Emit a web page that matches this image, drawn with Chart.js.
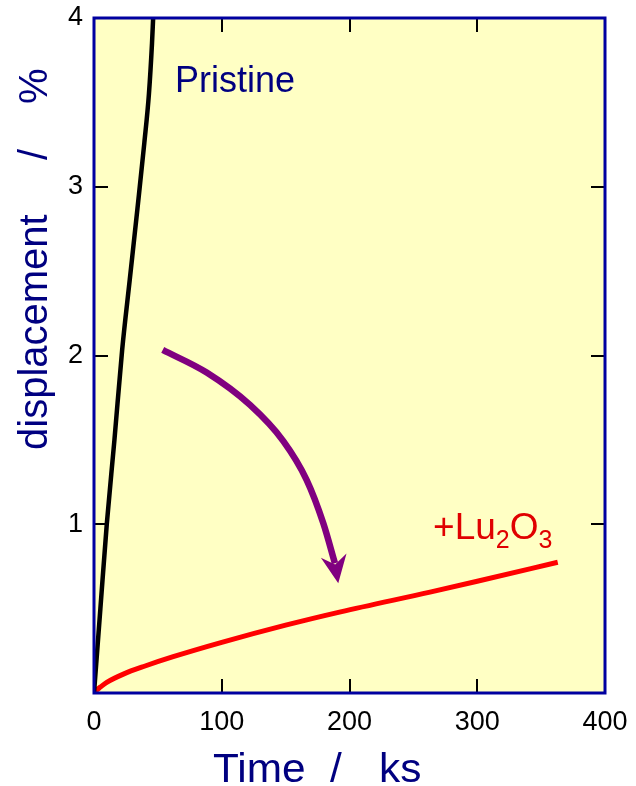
<!DOCTYPE html>
<html>
<head>
<meta charset="utf-8">
<script src="https://cdn.jsdelivr.net/npm/chart.js@4.4.1/dist/chart.umd.min.js"></script>
<style>
  html, body { margin: 0; padding: 0; background: #fff; }
  #wrap { width: 636px; height: 786px; }
</style>
</head>
<body>
<div id="wrap"><canvas id="creep"></canvas></div>
<script>
// creep curves: time (ks) vs displacement (%)
const pristineTime = [0, 5, 10, 16, 22, 28, 34, 39.4, 43, 45.4, 46.3];
const pristineDisp = [0, 0.5, 1.0, 1.5, 2.03, 2.45, 2.87, 3.26, 3.55, 3.85, 4.0];

const luTime = [0, 2, 5, 10, 23, 40, 62, 100, 150, 193, 263, 300, 363];
const luDisp = [0, 0.017, 0.035, 0.063, 0.112, 0.16, 0.215, 0.3, 0.402, 0.481, 0.598, 0.662, 0.775];

// curved arrow (shaft points, last one is the tip)
const arrowX = [53.8, 88.2, 122.1, 148.2, 166.5, 179.5, 188.6, 191.2];
const arrowY = [2.033, 1.899, 1.707, 1.493, 1.262, 1.006, 0.769, 0.65];

const xTicks = [0, 100, 200, 300, 400];
const yTicks = [0, 1, 2, 3, 4];

const NAVY = '#000080';
const FRAME = '#0000a0';
const PURPLE = '#800080';
const FONT = '"Liberation Sans", Arial, sans-serif';

const toXY = (xs, ys) => xs.map((x, i) => ({ x, y: ys[i] }));

// text stretched along its own direction
function wideText(ctx, text, x, y, stretch) {
  ctx.save();
  ctx.translate(x, y);
  ctx.scale(stretch, 1);
  ctx.fillText(text, 0, 0);
  ctx.restore();
}

const frame = {
  id: 'frame',
  beforeDraw(chart) {
    const { ctx, chartArea: a } = chart;
    ctx.save();
    ctx.fillStyle = '#ffffc4';
    ctx.fillRect(a.left, a.top, a.right - a.left, a.bottom - a.top);
    ctx.restore();
  },
  afterDatasetsDraw(chart) {
    const { ctx, chartArea: a, scales } = chart;
    const sx = scales.x, sy = scales.y;
    ctx.save();

    // arrow head
    const n = arrowX.length;
    const tx = sx.getPixelForValue(arrowX[n - 1]), ty = sy.getPixelForValue(arrowY[n - 1]);
    const px = sx.getPixelForValue(arrowX[n - 2]), py = sy.getPixelForValue(arrowY[n - 2]);
    const ang = Math.atan2(ty - py, tx - px);
    ctx.translate(tx, ty);
    ctx.rotate(ang);
    ctx.fillStyle = PURPLE;
    ctx.beginPath();
    ctx.moveTo(0, 0);
    ctx.lineTo(-28, -13);
    ctx.lineTo(-19, 0);
    ctx.lineTo(-28, 13);
    ctx.closePath();
    ctx.fill();
    ctx.setTransform(1, 0, 0, 1, 0, 0);

    // inward ticks on all four sides
    ctx.strokeStyle = '#000';
    ctx.lineWidth = 2;
    ctx.beginPath();
    xTicks.slice(1, -1).forEach((v) => {
      const x = Math.round(sx.getPixelForValue(v));
      ctx.moveTo(x, a.bottom); ctx.lineTo(x, a.bottom - 14);
      ctx.moveTo(x, a.top); ctx.lineTo(x, a.top + 14);
    });
    yTicks.slice(1, -1).forEach((v) => {
      const y = Math.round(sy.getPixelForValue(v));
      ctx.moveTo(a.left, y); ctx.lineTo(a.left + 14, y);
      ctx.moveTo(a.right, y); ctx.lineTo(a.right - 14, y);
    });
    ctx.stroke();

    // plot frame
    ctx.strokeStyle = FRAME;
    ctx.lineWidth = 3;
    ctx.strokeRect(a.left, a.top, a.right - a.left, a.bottom - a.top);

    // curve labels
    ctx.textBaseline = 'alphabetic';
    ctx.textAlign = 'left';
    ctx.font = '36px ' + FONT;
    ctx.fillStyle = NAVY;
    ctx.fillText('Pristine', sx.getPixelForValue(63.4), sy.getPixelForValue(3.56));

    let lx = sx.getPixelForValue(265.4);
    const ly = sy.getPixelForValue(0.913);
    ctx.fillStyle = '#e00000';
    const parts = [['+Lu', 37, 0], ['2', 25, 9], ['O', 37, 0], ['3', 25, 9]];
    parts.forEach(([t, size, dy]) => {
      ctx.font = size + 'px ' + FONT;
      ctx.fillText(t, lx, ly + dy);
      lx += ctx.measureText(t).width;
    });

    // axis titles
    ctx.fillStyle = NAVY;
    ctx.font = '40px ' + FONT;
    wideText(ctx, 'Time', 213, 782, 1.06);
    wideText(ctx, '/', 330, 782, 1.06);
    wideText(ctx, 'ks', 379, 782, 1.06);
    ctx.translate(47, 0);
    ctx.rotate(-Math.PI / 2);
    ctx.fillText('displacement', -450, 0);
    ctx.fillText('/', -160, 0);
    ctx.fillText('%', -104, 0);
    ctx.restore();
  },
};

new Chart(document.getElementById('creep'), {
  type: 'line',
  data: {
    datasets: [
      {
        label: 'Pristine',
        data: toXY(pristineTime, pristineDisp),
        borderColor: '#000',
        borderWidth: 4.5,
        pointRadius: 0,
        cubicInterpolationMode: 'monotone',
      },
      {
        label: '+Lu2O3',
        data: toXY(luTime, luDisp),
        borderColor: '#ff0000',
        borderWidth: 5,
        pointRadius: 0,
        cubicInterpolationMode: 'monotone',
      },
      {
        label: 'arrow',
        data: toXY(arrowX.slice(0, -1), arrowY.slice(0, -1)),
        borderColor: PURPLE,
        borderWidth: 6.5,
        pointRadius: 0,
        cubicInterpolationMode: 'monotone',
        borderCapStyle: 'butt',
      },
    ],
  },
  options: {
    responsive: true,
    maintainAspectRatio: false,
    animation: false,
    events: [],
    layout: { padding: { top: 18, right: 31, left: 0, bottom: 0 } },
    plugins: { legend: { display: false }, tooltip: { enabled: false } },
    scales: {
      x: {
        type: 'linear',
        min: 0,
        max: 400,
        afterBuildTicks: (s) => { s.ticks = xTicks.map((v) => ({ value: v })); },
        afterFit: (s) => {
          s.height = 93;
          s.paddingLeft = 0; s.paddingRight = 0;
        },
        grid: { display: false, drawTicks: false },
        border: { display: false },
        ticks: {
          color: '#000',
          padding: 13,
          maxRotation: 0,
          font: { family: FONT, size: 27 },
        },
      },
      y: {
        type: 'linear',
        min: 0,
        max: 4,
        afterBuildTicks: (s) => { s.ticks = yTicks.map((v) => ({ value: v })); },
        afterFit: (s) => {
          s.width = 94;
          s.paddingTop = 0; s.paddingBottom = 0;
        },
        grid: { display: false, drawTicks: false },
        border: { display: false },
        ticks: {
          color: '#000',
          padding: 11,
          font: { family: FONT, size: 27 },
          callback: (v) => (v === 0 ? '' : v),
        },
      },
    },
  },
  plugins: [frame],
});
</script>
</body>
</html>
